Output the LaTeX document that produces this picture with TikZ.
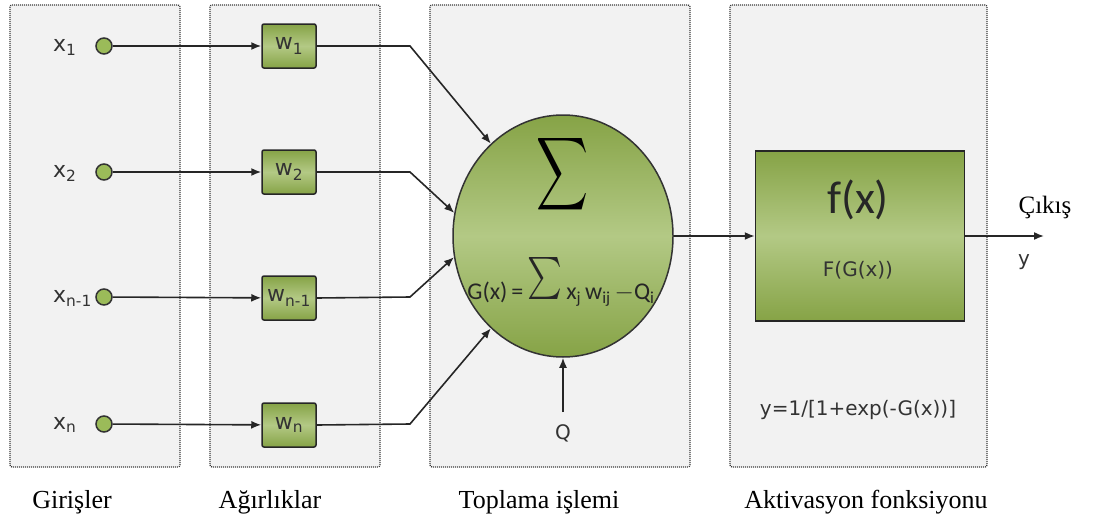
\documentclass[tikz,border=0pt]{standalone}
\usepackage{graphicx}
\usepackage{fontspec}
\setmainfont{Liberation Serif}
\newfontfamily\labelfont{DejaVu Sans}
\newfontfamily\calfont{Carlito}
\usetikzlibrary{arrows.meta,shapes.geometric}

\definecolor{panelfill}{HTML}{F2F2F2}
\definecolor{paneledge}{HTML}{3A3A3A}
\definecolor{greendark}{HTML}{86A346}
\definecolor{greenlight}{HTML}{B3C985}
\definecolor{dotgreen}{HTML}{9BBB59}
\definecolor{inkgray}{HTML}{262626}
\definecolor{textgray}{HTML}{333333}

\tikzset{
  panel/.style={draw=paneledge, fill=panelfill, line width=1.3pt,
    dash pattern=on 1pt off 1pt, rounded corners=2pt},
  greenshade/.style={top color=greendark, bottom color=greendark, middle color=greenlight},
  wbox/.style={greenshade, draw=black!85, line width=1.5pt, rounded corners=2pt,
    minimum width=54pt, minimum height=44pt, inner sep=0pt,
    font=\labelfont\fontsize{22}{22}\selectfont, text=textgray},
  innode/.style={circle, draw=black!80, line width=1.5pt, fill=dotgreen,
    minimum size=16pt, inner sep=0pt},
  xlab/.style={anchor=base west, inner sep=0pt,
    font=\labelfont\fontsize{22}{22}\selectfont, text=textgray},
  sanslab/.style={inner sep=0pt, font=\labelfont\fontsize{20}{20}\selectfont, text=textgray},
  caption/.style={anchor=base, inner sep=0pt, font=\fontsize{26}{26}\selectfont},
  link/.style={draw=inkgray, line width=1.6pt},
  tip/.style={-{Latex[length=10pt,width=8pt]}}
}

\begin{document}
\begin{tikzpicture}[x=1pt,y=-1pt]
\useasboundingbox (0,0) rectangle (1102,522);
\fill[white] (0,0) rectangle (1102,522);

% dotted background panels
\draw[panel] (10,5)  rectangle (180,467);
\draw[panel] (210,5) rectangle (380,467);
\draw[panel] (430,5) rectangle (690,467);
\draw[panel] (730,5) rectangle (987,467);

% inputs
\node[innode] (i1) at (104,46)  {};
\node[innode] (i2) at (104,172) {};
\node[innode] (i3) at (104,297) {};
\node[innode] (i4) at (104,424) {};
\node[xlab] (lx1) at (53,51)  {x\textsubscript{1}};
\node[xlab] (lx2) at (53,177) {x\textsubscript{2}};
\node[xlab] (lx3) at (53,302) {x\textsubscript{n-1}};
\node[xlab] (lx4) at (53,429) {x\textsubscript{n}};

% weights
\node[wbox] (w1) at (289,46)  {w\textsubscript{1}};
\node[wbox] (w2) at (289,172) {w\textsubscript{2}};
\node[wbox] (w3) at (289,298) {w\textsubscript{n-1}};
\node[wbox] (w4) at (289,425) {w\textsubscript{n}};

% summation unit
\node[ellipse, greenshade, draw=black!80, line width=1.5pt,
      minimum width=220pt, minimum height=242pt, inner sep=0pt] (sum) at (563,236) {};
\node[inner sep=0pt] (bigsigma) at (562,174) {\scalebox{3.6}[5.1]{$\displaystyle\sum$}};
\node[inner sep=0pt, text=inkgray] (gform) at (561,282)
  {\calfont\fontsize{24}{24}\selectfont G(x)\,=\,\raisebox{-5pt}{\scalebox{3.3}[4.2]{$\sum$}}\,x\textsubscript{j}\,w\textsubscript{ij}\,$-$Q\textsubscript{i}};

% bends of the weighted connections
\coordinate (b1) at (410,46);
\coordinate (b2) at (410,172);
\coordinate (b3) at (410,297);
\coordinate (b4) at (410,424);

\foreach \k in {1,2,3,4}{
  \draw[link, tip] (i\k) -- (w\k);
}
\draw[link, tip] (w1.east) -- (b1) -- (sum.128);
\draw[link, tip] (w2.east) -- (b2) -- (sum.168);
\draw[link, tip] (w3.east) -- (b3) -- (sum.191);
\draw[link, tip] (w4.east) -- (b4) -- (sum.232);

% threshold
\coordinate (qin) at (563,412);
\node[sanslab] (qlab) at (563,433) {Q};
\draw[link, tip] (qin) -- (sum.south);

% activation unit
\node[rectangle, greenshade, draw=black!85, line width=1.5pt,
      minimum width=209pt, minimum height=170pt, inner sep=0pt] (fbox) at (860,236) {};
\node[inner sep=0pt, text=black!85] (fx) at (858,200) {\calfont\fontsize{46}{46}\selectfont f(x)};
\node[sanslab] (fg) at (858,270) {F(G(x))};
\draw[link, tip] (sum.east) -- (fbox.west);

% output
\coordinate (yout) at (1044,236);
\draw[link, tip] (fbox.east) -- (yout);
\node[inner sep=0pt, font=\fontsize{25}{25}\selectfont] (cikis) at (1045,207) {Çıkış};
\node[sanslab] (ylab) at (1024,262) {y};
\node[sanslab] (sig) at (858,410) {y=1/[1+exp(-G(x))]};

% captions
\node[caption] (c1) at (72,508)  {Girişler};
\node[caption] (c2) at (270,508) {Ağırlıklar};
\node[caption] (c3) at (539,508) {Toplama işlemi};
\node[caption] (c4) at (866,508) {Aktivasyon fonksiyonu};
\end{tikzpicture}
\end{document}
